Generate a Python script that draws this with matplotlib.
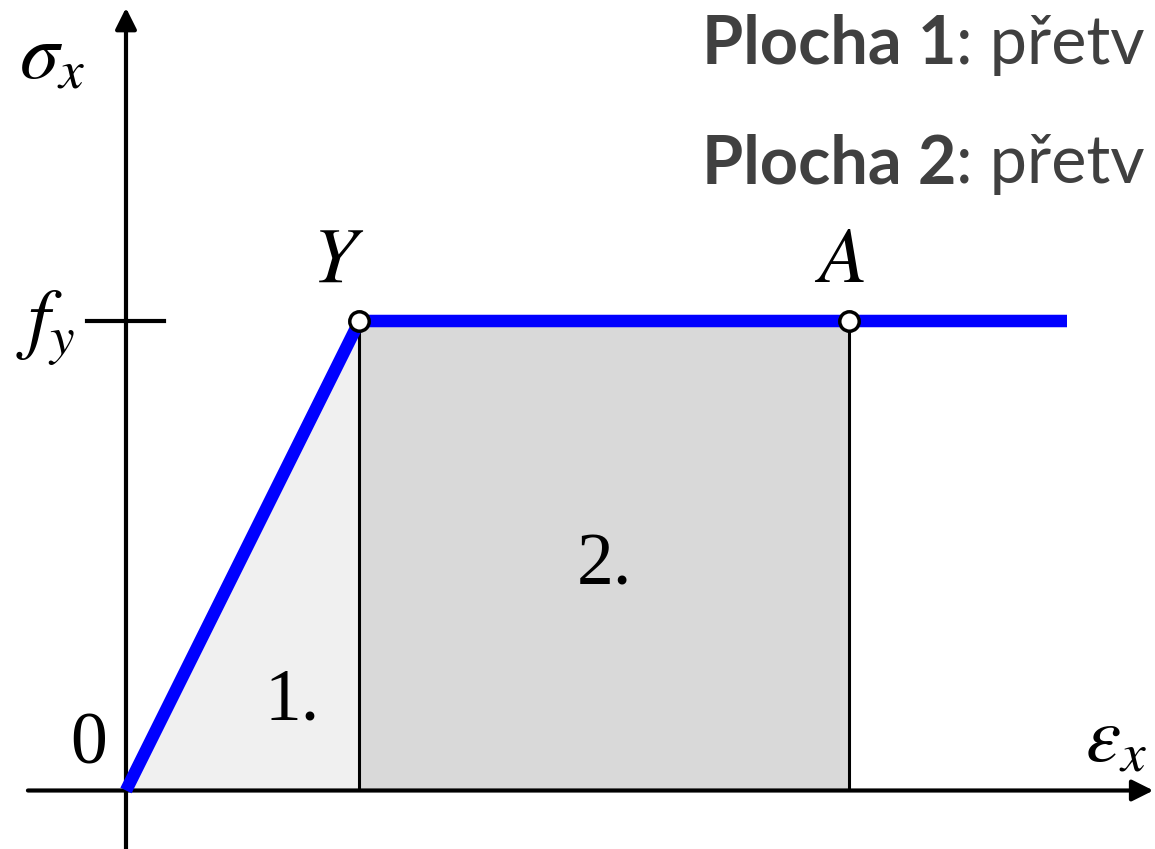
import matplotlib.pyplot as plt

plt.rcParams['mathtext.fontset'] = 'stix'

# idealised elastic-plastic stress-strain diagram (strain in units of eps_y)
eps = [0.0, 1.0, 3.095, 4.03]
sig = [0.0, 1.0, 1.0, 1.0]
eps_y, eps_a, f_y = 1.0, 3.095, 1.0
notes = [("Plocha 1", ": přetv"), ("Plocha 2", ": přetv")]

blue = '#0000ff'
grey_txt = '#404040'

fig = plt.figure(figsize=(11.55, 8.49), dpi=100)
ax = fig.add_axes([0, 0, 1, 1])
ax.set_xlim(-0.5396, 4.4069)
ax.set_ylim(-0.1246, 1.6837)
ax.axis('off')

# shaded areas: 1 = elastic triangle, 2 = plastic rectangle up to A
ax.fill([0, eps_y, eps_y], [0, f_y, 0], color='#f0f0f0', lw=0, zorder=1)
ax.fill_between([eps_y, eps_a], 0, f_y, color='#d9d9d9', lw=0, zorder=1)
ax.vlines([eps_y, eps_a], 0, f_y, color='black', lw=2.2, zorder=2)

# coordinate axes with arrow heads
arrow = dict(arrowstyle='-|>', lw=3, color='black', mutation_scale=32,
             shrinkA=0, shrinkB=0)
ax.annotate('', xy=(4.40, 0), xytext=(-0.42, 0), arrowprops=arrow, zorder=3)
ax.annotate('', xy=(0, 1.667), xytext=(0, -0.13), arrowprops=arrow, zorder=3)
ax.plot([-0.166, 0.163], [f_y, f_y], color='black', lw=3, zorder=3)

# material law
ax.plot(eps, sig, color=blue, lw=9, solid_capstyle='butt', zorder=4)
ax.plot([eps_y, eps_a], [f_y, f_y], 'o', ms=14, mfc='white', mec='black',
        mew=2.5, zorder=5)

mfs = 57
ax.text(-0.315, 1.565, r'$\sigma_x$', fontsize=mfs, ha='center', va='center')
ax.text(-0.345, 0.985, r'$f_y$', fontsize=mfs, ha='center', va='center')
ax.text(4.24, 0.11, r'$\varepsilon_x$', fontsize=mfs, ha='center', va='center')
ax.text(eps_y - 0.09, 1.05, r'$Y$', fontsize=mfs, ha='center', va='bottom')
ax.text(eps_a - 0.04, 1.05, r'$A$', fontsize=mfs, ha='center', va='bottom')

serif = dict(family='Liberation Serif', fontsize=53, ha='center',
             va='baseline')
ax.text(-0.16, 0.057, '0', **serif)
ax.text(0.71, 0.152, '1.', **serif)
ax.text(2.05, 0.438, '2.', **serif)

for i, (bold, rest) in enumerate(notes):
    y_px = 64 + i * 119
    t = fig.text(702 / 1155, 1 - y_px / 849, bold, family='Lato',
                 weight='bold', fontsize=48, color=grey_txt, va='baseline')
    fig.canvas.draw()
    bb = t.get_window_extent()
    fig.text(bb.x1 / 1155, 1 - y_px / 849, rest, family='Lato',
             fontsize=48, color=grey_txt, va='baseline')

fig.savefig('out.png', dpi=100)
